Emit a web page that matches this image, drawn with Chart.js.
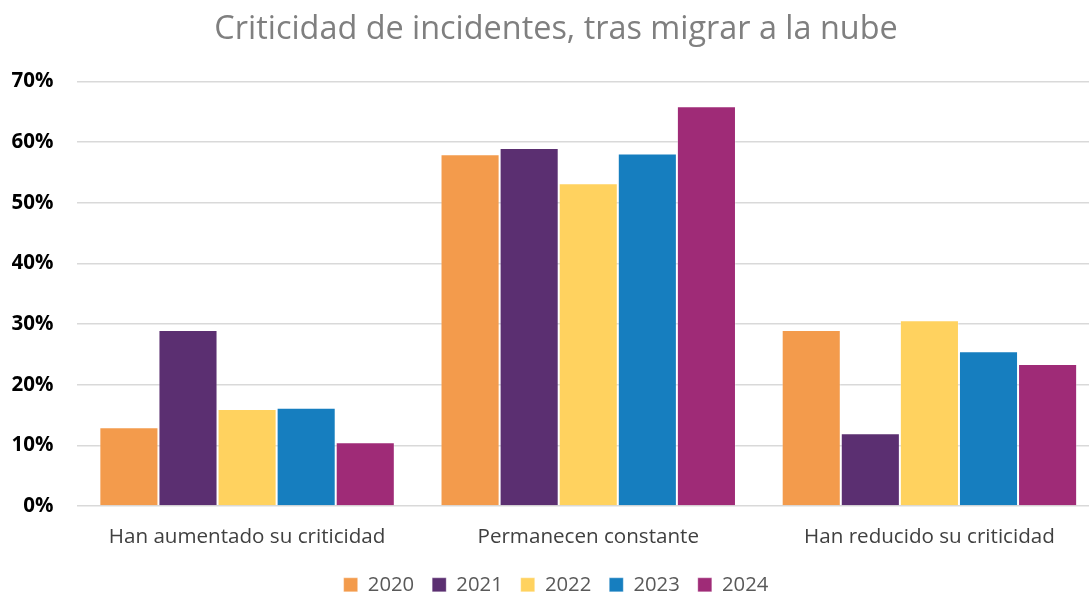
<!DOCTYPE html>
<html>
<head>
<meta charset="utf-8">
<script src="https://cdn.jsdelivr.net/npm/chart.js@4/dist/chart.umd.min.js"></script>
<style>
  html, body { margin: 0; padding: 0; background: #fff; overflow: hidden; }
  #wrap { width: 1122px; height: 599px; }
</style>
</head>
<body>
<div id="wrap"><canvas id="c" width="1122" height="599"></canvas></div>
<script>
const categories = ["Han aumentado su criticidad", "Permanecen constante", "Han reducido su criticidad"];
const seriesNames = ["2020", "2021", "2022", "2023", "2024"];
const v2020 = [13, 58, 29];
const v2021 = [29, 59, 12];
const v2022 = [16, 53.2, 30.6];
const v2023 = [16.2, 58.1, 25.5];
const v2024 = [10.5, 65.9, 23.4];
const seriesColors = ["#F39B4C", "#5B2F71", "#FFD25F", "#167EBF", "#9F2B77"];
const yTicks = [0, 10, 20, 30, 40, 50, 60, 70];

const allValues = [v2020, v2021, v2022, v2023, v2024];
const datasets = seriesNames.map((n, i) => ({
  label: n,
  data: allValues[i],
  backgroundColor: seriesColors[i],
  borderColor: "rgba(255,255,255,0.3)",
  borderWidth: 1,
  categoryPercentage: 0.866,
  barPercentage: 1.0
}));

new Chart(document.getElementById("c"), {
  type: "bar",
  data: { labels: categories, datasets },
  options: {
    responsive: false,
    animation: false,
    layout: { padding: { left: 12, right: 22, top: 6, bottom: -6 } },
    plugins: {
      title: {
        display: true,
        text: "Criticidad de incidentes, tras migrar a la nube",
        color: "#7F7F7F",
        font: { family: "Open Sans", size: 32.4, weight: "normal" },
        padding: { top: 4, bottom: 32.5 }
      },
      legend: {
        position: "bottom",
        labels: {
          color: "#595959",
          font: { family: "Open Sans", size: 20.3 },
          boxWidth: 14,
          boxHeight: 14,
          padding: 18
        }
      },
      tooltip: { enabled: false }
    },
    scales: {
      x: {
        grid: { display: false },
        border: { display: false },
        afterFit: (s) => { s.paddingLeft = 0; s.paddingRight = 0; s.height = s.height - 4; },
        ticks: {
          color: "#404040",
          font: { family: "Open Sans", size: 20.6 },
          padding: 11
        }
      },
      y: {
        min: 0,
        max: 70,
        afterBuildTicks: (axis) => { axis.ticks = yTicks.map(v => ({ value: v })); },
        afterFit: (s) => { s.width = 64.5; },
        grid: { color: "#D9D9D9", lineWidth: 1.6, drawTicks: false },
        border: { display: false },
        ticks: {
          color: "#000000",
          font: { family: "Open Sans", size: 20.5, weight: "bold" },
          padding: 23,
          callback: (v) => v + "%"
        }
      }
    }
  }
});
</script>
</body>
</html>
